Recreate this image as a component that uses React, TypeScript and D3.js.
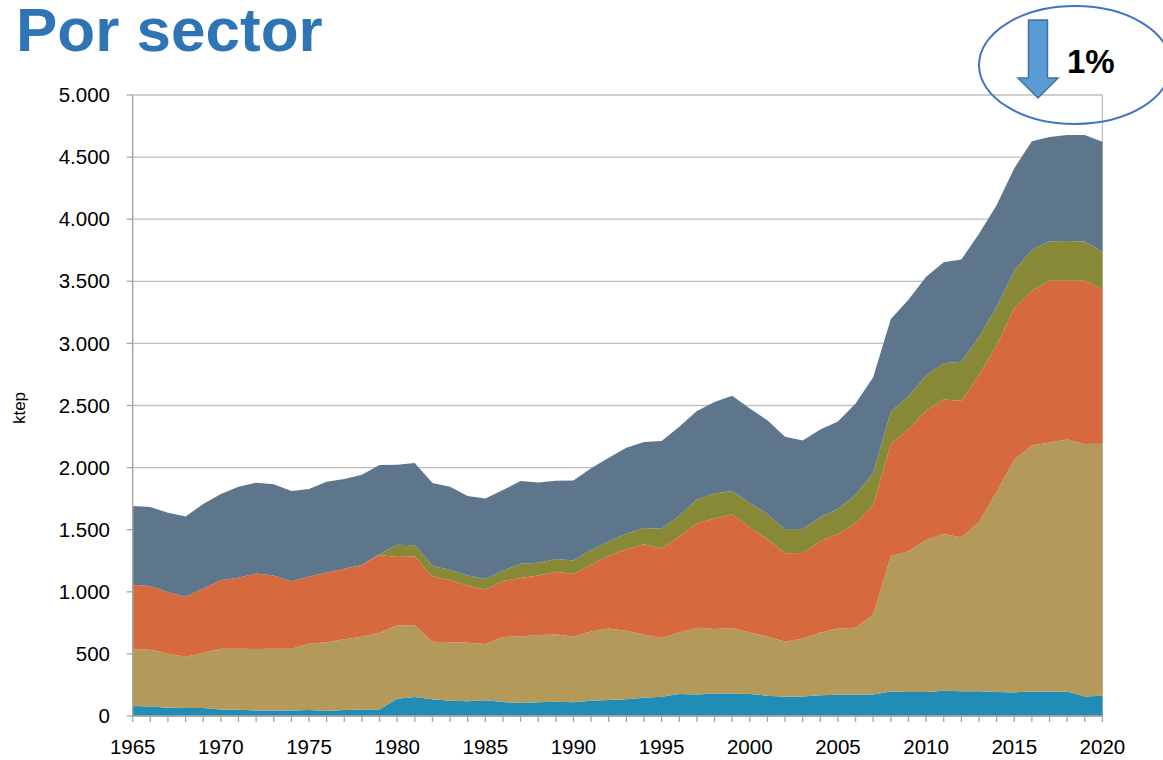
import * as d3 from "d3";

const years = d3.range(1965, 2021);

// ktep por sector (de abajo hacia arriba)
const agro = [80, 77, 67, 64, 64, 53, 51, 45, 45, 45, 48, 40, 48, 53, 53, 139, 153, 134, 123, 118, 126, 112, 104, 110, 115, 110, 123, 128, 134, 147, 155, 177, 174, 182, 182, 177, 164, 154, 158, 167, 171, 174, 174, 197, 193, 193, 203, 200, 200, 193, 190, 197, 197, 197, 158, 164];
const industrial = [462, 457, 437, 413, 446, 489, 491, 494, 497, 497, 534, 553, 569, 585, 617, 591, 577, 463, 470, 472, 453, 524, 537, 542, 542, 531, 558, 577, 553, 507, 473, 496, 537, 518, 526, 495, 476, 444, 466, 505, 534, 537, 644, 1090, 1133, 1224, 1262, 1239, 1362, 1612, 1874, 1980, 2006, 2029, 2032, 2029];
const transporte = [515, 512, 494, 483, 517, 550, 571, 609, 590, 542, 539, 563, 569, 577, 626, 550, 555, 527, 502, 459, 440, 451, 470, 480, 505, 502, 537, 586, 655, 728, 722, 771, 840, 891, 915, 848, 783, 712, 689, 735, 760, 841, 880, 906, 980, 1042, 1084, 1100, 1181, 1181, 1220, 1246, 1301, 1278, 1314, 1246];
const comercial = [0, 0, 0, 0, 0, 0, 0, 0, 0, 0, 0, 0, 0, 0, 8, 99, 89, 86, 80, 83, 84, 83, 115, 102, 102, 110, 118, 115, 126, 131, 158, 169, 193, 201, 188, 195, 204, 194, 191, 194, 201, 230, 259, 259, 266, 284, 291, 314, 308, 307, 301, 333, 317, 320, 317, 298];
const residencial = [633, 636, 639, 647, 680, 695, 733, 730, 733, 727, 706, 730, 722, 728, 717, 644, 663, 666, 671, 639, 649, 649, 666, 647, 630, 644, 658, 674, 692, 693, 706, 716, 711, 736, 768, 760, 754, 744, 715, 705, 705, 735, 770, 744, 780, 793, 813, 822, 831, 819, 825, 871, 841, 854, 857, 886];

const sectorKeys = ["agro", "industrial", "transporte", "comercial", "residencial"];
const sectorColors = ["#218CB6", "#B49A5A", "#D7693E", "#888936", "#5D768C"];

const yTicks = [0, 500, 1000, 1500, 2000, 2500, 3000, 3500, 4000, 4500, 5000];
const xLabelYears = [1965, 1970, 1975, 1980, 1985, 1990, 1995, 2000, 2005, 2010, 2015, 2020];

const fmt = d3
  .formatLocale({ decimal: ",", thousands: ".", grouping: [3], currency: ["", ""] })
  .format(",");

const App = () => {
  const left = 132.7;
  const right = 1102.4;
  const top = 95;
  const bottom = 716;

  const rows = years.map((y, i) => ({
    year: y,
    agro: agro[i],
    industrial: industrial[i],
    transporte: transporte[i],
    comercial: comercial[i],
    residencial: residencial[i],
  }));

  const x = d3.scaleLinear().domain([1965, 2020]).range([left, right]);
  const yScale = d3.scaleLinear().domain([0, 5000]).range([bottom, top]);

  const stack = d3.stack().keys(sectorKeys);
  const series = stack(rows as any);

  const area = d3
    .area<any>()
    .x((d) => x(d.data.year))
    .y0((d) => yScale(d[0]))
    .y1((d) => yScale(d[1]));

  const font = "'Liberation Sans', Arial, sans-serif";

  return (
    <svg
      width={1163}
      height={760}
      style={{ position: "absolute", left: 0, top: 0, background: "#fff" }}
    >
      <text
        x={16}
        y={51}
        fontFamily={font}
        fontWeight="bold"
        fontSize={62}
        fill="#2F75B5"
      >
        Por sector
      </text>

      {/* grid */}
      {yTicks.map((t) => (
        <line
          key={"g" + t}
          x1={left}
          x2={right}
          y1={yScale(t)}
          y2={yScale(t)}
          stroke="#BFBFBF"
          strokeWidth={1.3}
        />
      ))}
      <line x1={right} x2={right} y1={top} y2={bottom} stroke="#BFBFBF" strokeWidth={1.3} />

      {series.map((s, i) => (
        <path key={sectorKeys[i]} d={area(s as any) ?? ""} fill={sectorColors[i]} />
      ))}

      {/* y axis */}
      <line x1={left} x2={left} y1={top} y2={bottom} stroke="#A6A6A6" strokeWidth={1.5} />
      {yTicks.map((t) => (
        <g key={"y" + t}>
          <line x1={left - 6} x2={left} y1={yScale(t)} y2={yScale(t)} stroke="#A6A6A6" strokeWidth={1.3} />
          <text
            x={110}
            y={yScale(t)}
            dy="0.35em"
            textAnchor="end"
            fontFamily={font}
            fontSize={20.5}
            fill="#000"
          >
            {fmt(t)}
          </text>
        </g>
      ))}
      <text
        transform={`translate(25, 408) rotate(-90)`}
        textAnchor="middle"
        fontFamily={font}
        fontSize={17}
        fill="#000"
      >
        ktep
      </text>

      {/* x axis */}
      <line x1={left} x2={right} y1={bottom} y2={bottom} stroke="#A6A6A6" strokeWidth={1.5} />
      {years.map((yr) => (
        <line
          key={"xt" + yr}
          x1={x(yr)}
          x2={x(yr)}
          y1={bottom}
          y2={bottom + 6}
          stroke="#A6A6A6"
          strokeWidth={1.3}
        />
      ))}
      {xLabelYears.map((yr) => (
        <text
          key={"xl" + yr}
          x={x(yr)}
          y={754}
          textAnchor="middle"
          fontFamily={font}
          fontSize={20.5}
          fill="#000"
        >
          {yr}
        </text>
      ))}

      {/* anotación */}
      <ellipse cx={1075} cy={65} rx={96} ry={59} fill="none" stroke="#4472C4" strokeWidth={2} />
      <path
        d="M1028.5,20 L1047.5,20 L1047.5,78 L1058,78 L1038,98 L1018,78 L1028.5,78 Z"
        fill="#5B9BD5"
        stroke="#41719C"
        strokeWidth={1.5}
      />
      <text
        x={1067}
        y={73}
        fontFamily={font}
        fontWeight="bold"
        fontSize={33}
        fill="#000"
      >
        1%
      </text>
    </svg>
  );
};

export default App;
